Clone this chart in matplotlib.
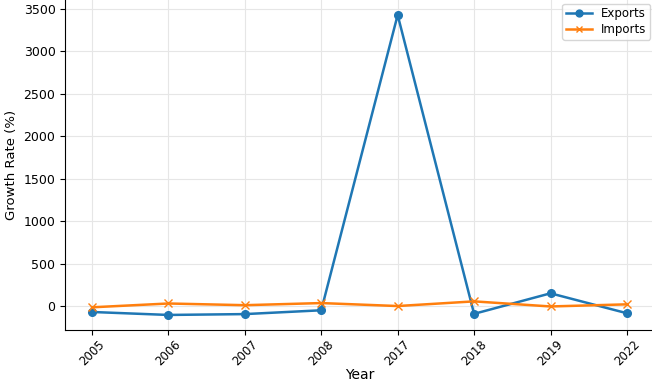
import matplotlib
matplotlib.use("Agg")
import matplotlib.pyplot as plt

# data
years = ["2005", "2006", "2007", "2008", "2017", "2018", "2019", "2022"]
exports = [-70, -105, -95, -50, 3430, -92, 150, -85]
imports = [-15, 30, 10, 35, 0, 55, -5, 20]

fig = plt.figure(figsize=(6.52, 3.85), dpi=100)
ax = fig.add_axes([0.1, 0.143, 0.9026, 0.857])

ax.plot(years, exports, marker="o", markersize=5.5, linewidth=1.8, color="#1f77b4", label="Exports")
ax.plot(years, imports, marker="x", markersize=5.5, linewidth=1.8, color="#ff7f0e", label="Imports")

ax.set_xlabel("Year", fontsize=10, labelpad=0)
ax.set_ylabel("Growth Rate (%)", fontsize=9.5)
ax.tick_params(axis="y", labelsize=9)
ax.tick_params(axis="x", labelsize=8.5, pad=2)
plt.setp(ax.get_xticklabels(), rotation=45)
ax.grid(True, color="#e6e6e6", linewidth=0.8)
ax.set_axisbelow(True)
ax.spines["top"].set_visible(False)
ax.spines["right"].set_visible(False)
ax.legend(loc="upper right", fontsize=8.5, handlelength=2.2, borderaxespad=0.3,
          labelspacing=0.25, borderpad=0.3, markerscale=0.9)

fig.savefig("out.png", dpi=100)
